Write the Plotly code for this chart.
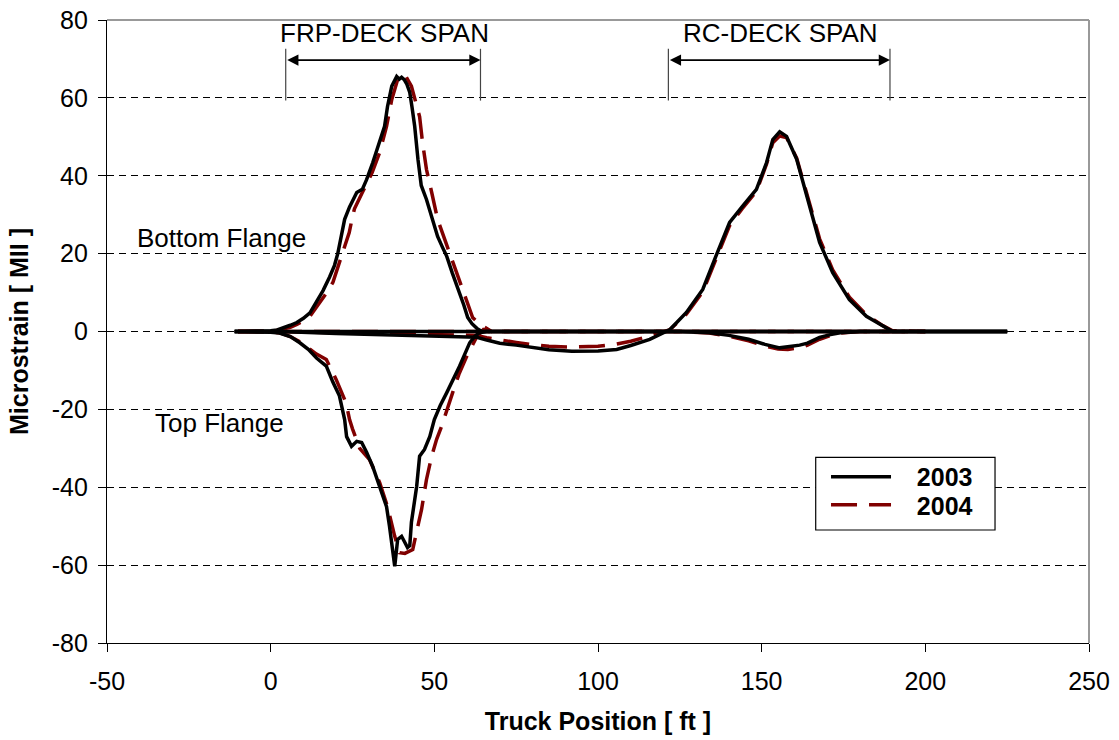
import plotly.graph_objects as go

# ---- 2003 test (solid black) ----
frp_bot_03_x = [-11, -6, -2, 0, 2, 4, 6, 8, 10, 12, 14, 16, 18, 19.5, 20.5, 21.5, 22.6, 24.1, 26.3, 28,
                29.3, 31.2, 33.3, 34.8, 35.7, 37, 38.5, 39.3, 40, 40.8, 41.6, 42.5, 43.2, 44, 45, 46, 47.6,
                49.5, 51, 52.5, 53.8, 55.5, 57.7, 59, 60.2, 61.5, 63, 64.5, 70, 100, 150, 200, 225]
frp_bot_03_y = [0, 0, 0.1, 0.2, 0.4, 0.9, 1.6, 2.3, 3.4, 4.8, 7.5, 10.5, 14, 17, 20, 24, 28.8, 32, 35.7, 36.5,
                39, 43.4, 48.5, 52.7, 57.8, 63, 65.5, 64.8, 65.3, 64.7, 63.5, 61.4, 57.5, 52.7, 44.2, 37.5, 33.9,
                28.8, 24.4, 21.6, 19.3, 15, 10, 6.8, 3.6, 2, 0.8, 0, 0, 0, 0, 0, 0]

frp_top_03_x = [-11, -6, -2, 0, 2.7, 6, 8.9, 11.5, 14, 17, 19, 21, 22.6, 23.2, 24.7, 26.3, 27.8, 29.3, 31.2,
                33.3, 35.4, 36.3, 37.3, 37.9, 38.8, 40, 41, 41.8, 42.5, 43, 44.6, 45.5, 47, 48.6, 50, 51.8,
                53.8, 55.8, 57.7, 59.3, 60.8, 62.3, 63.8, 66, 100, 150, 200, 225]
frp_top_03_y = [0, 0, -0.1, -0.2, -0.4, -1.3, -2.9, -4.6, -6.8, -8.9, -13, -16.5, -22.6, -27, -29.5, -28.2,
                -28.5, -31, -34.7, -39.8, -45, -50, -56, -60.3, -53.4, -52.6, -54.2, -55.5, -55, -49, -39.8,
                -32, -30.3, -27, -22.6, -19, -15.7, -12.3, -8.9, -5.8, -2.9, -1.3, -0.3, 0, 0, 0, 0, 0]

rc_bot_03_x = [-11, 0, 3, 20, 40, 55, 63, 66, 70, 75, 80, 85, 92, 100, 105.7, 110, 115.8, 119, 122, 127,
               132, 136, 140.2, 144, 148.4, 151.5, 153.4, 155.5, 157.6, 160.7, 163.7, 167.7, 171.7, 176.8,
               182, 187, 190, 200, 225]
rc_bot_03_y = [0, 0, 0, -0.5, -1, -1.3, -1.5, -2.2, -3, -3.5, -4.2, -4.7, -5.1, -5, -4.6, -3.6, -2, -0.8,
               0.5, 4.9, 10.8, 19.3, 28, 32, 36.5, 43.4, 49.3, 51.3, 50.1, 44.2, 34.7, 22.9, 15.1, 8.2, 3.9,
               1.3, 0, 0, 0]

rc_top_03_x = [-11, 60, 100, 125, 134, 140, 146, 151, 155.5, 158, 161.6, 164, 167.7, 171, 174, 180, 225]
rc_top_03_y = [0, 0, 0, 0, -0.3, -1, -2, -3.3, -4.2, -4, -3.5, -3, -1.5, -0.8, -0.3, 0, 0]

# ---- 2004 test (dashed dark red) ----
frp_bot_04_x = [-10, -5, 0, 2, 4, 6, 8, 10, 12, 15, 17, 19, 22, 24, 25, 25.6, 28, 31, 33.3, 35.4,
                37, 38.8, 40, 41, 43, 44.2, 45.5, 46.4, 47.6, 49.2, 51, 53.2, 54.7, 56.5, 58.6, 60, 61.7,
                64, 66, 67.5, 75, 100, 150, 200]
frp_bot_04_y = [0, 0, 0.1, 0.3, 0.6, 1.1, 1.8, 2.7, 3.9, 7.4, 9.8, 12.6, 20.3, 25.4, 29.5, 31.5, 35.7, 40.8,
                46, 52.7, 59.6, 64.7, 65.5, 66, 63, 59, 55.2, 48.5, 41.6, 35.7, 28.8, 23.6, 20, 15.5, 10.5,
                7, 3.6, 1.8, 0.8, 0, 0, 0, 0, 0]

frp_top_04_x = [-10, -5, 0, 3, 6, 9, 12, 14, 17, 20, 23, 24.1, 25, 27.2, 30.2, 33.3, 35.7, 37.9, 39.4, 41,
                43.4, 44.6, 46.1, 47.6, 49.2, 50.7, 52.2, 55.6, 57.5, 59.9, 61.5, 63, 65, 66.5, 75, 100,
                150, 200]
frp_top_04_y = [0, 0, -0.1, -0.4, -1.3, -2.7, -4.5, -5.8, -7.2, -12.3, -18.3, -22.6, -25, -30, -32.9,
                -38.8, -45, -52.6, -56.8, -57, -56, -51.6, -45.7, -38, -32, -27.7, -24.4, -15.7, -11, -6.4,
                -3.5, -1.3, 0.5, 0, 0, 0, 0, 0]

rc_bot_04_x = [-10, 0, 3, 20, 40, 55, 63, 66, 70, 75, 80, 85, 92, 100, 105.7, 110, 115.8, 119, 122, 127,
               132, 136, 140.2, 144, 148.4, 151.5, 153.4, 155.5, 157.6, 160.7, 163.7, 167.7, 171.7, 176.8,
               182, 187, 190, 200]
rc_bot_04_y = [0, 0, 0, -0.3, -0.6, -0.9, -1, -1.6, -2.2, -2.8, -3.4, -3.8, -4, -3.8, -3.2, -2.5, -1.2,
               -0.4, 0.5, 4.5, 10.2, 18.5, 27.2, 31.5, 36, 43, 48.5, 50.2, 49.8, 44.5, 35.5, 23.8, 15.8, 8.8,
               4.3, 1.5, 0.2, 0]

rc_top_04_x = [-10, 60, 100, 125, 134, 140, 146, 151, 155, 158, 161.6, 164, 167.7, 171, 174, 180, 200]
rc_top_04_y = [0, 0, 0, 0, -0.4, -1.2, -2.4, -3.7, -4.5, -4.6, -4.2, -3.5, -2, -1, -0.4, 0, 0]

# axis ticks (labels use a plain hyphen for negatives)
x_ticks = [-50, 0, 50, 100, 150, 200, 250]
x_tick_text = ["-50", "0", "50", "100", "150", "200", "250"]
y_ticks = [-80, -60, -40, -20, 0, 20, 40, 60, 80]
y_tick_text = ["-80", "-60", "-40", "-20", "0", "20", "40", "60", "80"]

# span markers (ft) and labels
frp_span = [4.6, 64.1]
rc_span = [121.5, 189.2]
span_labels = ["FRP-DECK SPAN", "RC-DECK SPAN"]
flange_labels = ["Bottom Flange", "Top Flange"]
years = ["2003", "2004"]

FONT = "Arial, Liberation Sans, sans-serif"
BLACK = "#000000"
RED = "#800000"
NB = "\u00a0"

fig = go.Figure()

series_03 = [(frp_bot_03_x, frp_bot_03_y), (frp_top_03_x, frp_top_03_y),
             (rc_bot_03_x, rc_bot_03_y), (rc_top_03_x, rc_top_03_y)]
series_04 = [(frp_bot_04_x, frp_bot_04_y), (frp_top_04_x, frp_top_04_y),
             (rc_bot_04_x, rc_bot_04_y), (rc_top_04_x, rc_top_04_y)]

red_line = dict(color=RED, width=3.5, dash="26px,12px")
black_line = dict(color=BLACK, width=3.5)

for xs, ys in series_04:
    fig.add_trace(go.Scatter(x=xs, y=ys, mode="lines", name=years[1], showlegend=False,
                             line=red_line))

for i, (xs, ys) in enumerate(series_03):
    fig.add_trace(go.Scatter(x=xs, y=ys, mode="lines", name=NB * 3 + years[0],
                             showlegend=(i == 0), legend="legend", line=black_line))

# legend entry for the 2004 test, on its own row
fig.add_trace(go.Scatter(x=[None], y=[None], mode="lines", name=NB * 3 + years[1],
                         showlegend=True, legend="legend2", line=red_line))

shapes = []
for xv in frp_span + rc_span:
    shapes.append(dict(type="line", xref="x", yref="y", x0=xv, x1=xv, y0=59.3, y1=72.6,
                       line=dict(color="#444444", width=1.2)))
# plot-area border on top and right
shapes.append(dict(type="line", xref="paper", yref="paper", x0=0, x1=1, y0=1, y1=1,
                   line=dict(color="#999999", width=2)))
shapes.append(dict(type="line", xref="paper", yref="paper", x0=1, x1=1, y0=0, y1=1,
                   line=dict(color="#999999", width=2)))
# legend frame
shapes.append(dict(type="rect", xref="paper", yref="paper", x0=0.7217, x1=0.9043, y0=0.1814, y1=0.2981,
                   fillcolor="white", line=dict(color=BLACK, width=1.2), layer="above"))

annotations = []
for (a, b) in (frp_span, rc_span):
    annotations.append(dict(x=b, y=69.7, ax=a, ay=69.7, xref="x", yref="y", axref="x", ayref="y",
                            text="", showarrow=True, arrowside="end+start", arrowhead=2,
                            startarrowhead=2, arrowsize=1.4, startarrowsize=1.4, arrowwidth=1.6,
                            arrowcolor=BLACK))
for (a, b), lab in zip((frp_span, rc_span), span_labels):
    annotations.append(dict(x=(a + b) / 2 + 0.5, y=76.6, xref="x", yref="y", text=lab, showarrow=False,
                            font=dict(family=FONT, size=26, color=BLACK)))
annotations.append(dict(x=-41.5, y=24.1, xref="x", yref="y", xanchor="left", text=flange_labels[0],
                        showarrow=False, font=dict(family=FONT, size=26, color=BLACK)))
annotations.append(dict(x=-36, y=-23.4, xref="x", yref="y", xanchor="left", text=flange_labels[1],
                        showarrow=False, font=dict(family=FONT, size=26, color=BLACK)))

legend_style = dict(xanchor="left", yanchor="middle", borderwidth=0, bgcolor="rgba(0,0,0,0)",
                    font=dict(family=FONT, size=25, color=BLACK, weight="bold"), itemwidth=60)

fig.update_layout(
    width=1119, height=740,
    margin=dict(l=107, r=30, t=20, b=97, autoexpand=False),
    plot_bgcolor="white", paper_bgcolor="white",
    font=dict(family=FONT, size=25, color=BLACK),
    shapes=shapes, annotations=annotations,
    showlegend=True,
    legend=dict(x=0.7322, y=0.2665, **legend_style),
    legend2=dict(x=0.7322, y=0.2215, **legend_style),
    xaxis=dict(range=[-50, 250], tickvals=x_ticks, ticktext=x_tick_text, automargin=False,
               showgrid=False, zeroline=False, showline=True, linecolor=BLACK, linewidth=1.3,
               ticks="outside", ticklen=8, tickcolor=BLACK, ticklabelstandoff=8,
               tickfont=dict(family=FONT, size=25),
               title=dict(text="Truck Position [ ft ]", standoff=18,
                          font=dict(family=FONT, size=25, weight="bold"))),
    yaxis=dict(range=[-80, 80], tickvals=y_ticks, ticktext=y_tick_text, automargin=False,
               showgrid=True, gridcolor=BLACK, gridwidth=1, griddash="7px,5px",
               zeroline=False, showline=True, linecolor=BLACK, linewidth=1.3,
               ticks="outside", ticklen=8, tickcolor=BLACK, ticklabelstandoff=5,
               tickfont=dict(family=FONT, size=25),
               title=dict(text="Microstrain [ MII ]", standoff=15,
                          font=dict(family=FONT, size=25, weight="bold"))),
)

fig.write_html("out.html")
